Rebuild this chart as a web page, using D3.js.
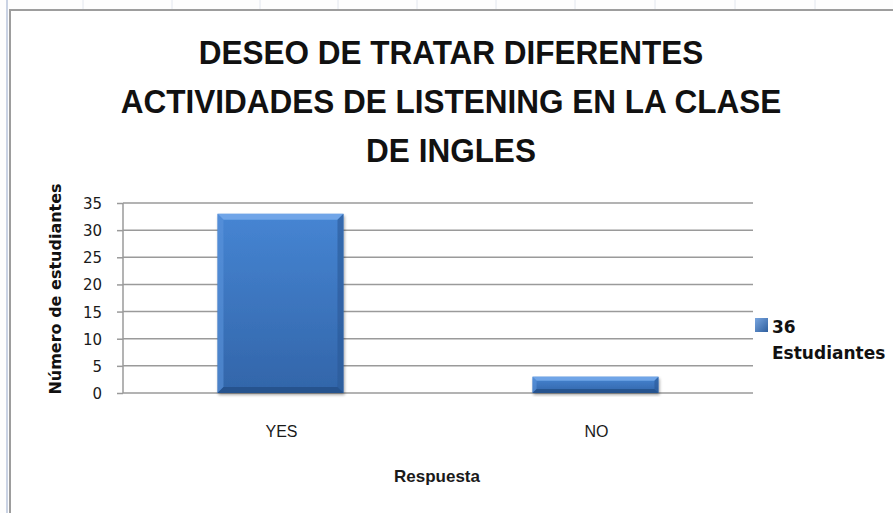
<!DOCTYPE html>
<html><head><meta charset="utf-8">
<script src="https://cdn.jsdelivr.net/npm/d3@7"></script>
<style>
html,body{margin:0;padding:0;background:#fff;}
svg{display:block;}
</style></head>
<body>
<svg id="c" width="893" height="513"></svg>
<script>
const titleLines = ["DESEO DE TRATAR DIFERENTES","ACTIVIDADES DE LISTENING EN LA CLASE","DE INGLES"];
const categories = ["YES","NO"];
const values = [33,3];
const yTicks = [0,5,10,15,20,25,30,35];
const seriesName = ["36","Estudiantes"];
const yTitle = "Número de estudiantes";
const xTitle = "Respuesta";

const svg = d3.select("#c");
const W=893,H=513;

// sheet background hints
svg.append("rect").attr("x",0).attr("y",0).attr("width",W).attr("height",H).attr("fill","#fdfdfd");
svg.append("line").attr("x1",7).attr("x2",7).attr("y1",0).attr("y2",H).attr("stroke","#c9d2e3").attr("stroke-width",2);
[83,172,260,338,417,496,575,655,735,815].forEach(xx=>{
  svg.append("line").attr("x1",xx).attr("x2",xx).attr("y1",0).attr("y2",9).attr("stroke","#e2e6ee").attr("stroke-width",1);
});
// chart frame
svg.append("rect").attr("x",10).attr("y",10).attr("width",W+20).attr("height",H+20)
  .attr("fill","#ffffff").attr("stroke","#9d9d9d").attr("stroke-width",2);

const defs = svg.append("defs");
const g1 = defs.append("linearGradient").attr("id","barG").attr("x1",0).attr("x2",0).attr("y1",0).attr("y2",1);
g1.append("stop").attr("offset","0%").attr("stop-color","#4685d3");
g1.append("stop").attr("offset","100%").attr("stop-color","#3265a9");
const gL = defs.append("linearGradient").attr("id","legG").attr("x1",0).attr("x2",1).attr("y1",0).attr("y2",1);
gL.append("stop").attr("offset","0%").attr("stop-color","#79a6e0");
gL.append("stop").attr("offset","100%").attr("stop-color","#2f5f9e");
const sh = defs.append("filter").attr("id","shadow").attr("x","-10%").attr("y","-10%").attr("width","130%").attr("height","130%");
sh.append("feGaussianBlur").attr("in","SourceAlpha").attr("stdDeviation",1.5);
sh.append("feOffset").attr("dx",1).attr("dy",1.5).attr("result","b");
sh.append("feComponentTransfer").append("feFuncA").attr("type","linear").attr("slope",0.35);
const mg = sh.append("feMerge"); mg.append("feMergeNode"); mg.append("feMergeNode").attr("in","SourceGraphic");

const x = d3.scaleBand().domain(categories).range([123,753]).paddingInner(0.6).paddingOuter(0.3);
const y = d3.scaleLinear().domain([0,35]).range([393,203]);

// axis and ticks
const gy = svg.append("g").attr("transform","translate(123,0)")
  .call(d3.axisLeft(y).tickValues(yTicks).tickSize(6).tickFormat(""));
gy.select(".domain").attr("stroke","#9a9a9a").attr("stroke-width",1.5).attr("d","M0,"+y(35)+"V"+y(0));
gy.selectAll(".tick line").attr("stroke","#9a9a9a").attr("stroke-width",1.5);
// gridlines
svg.append("g").selectAll("line").data(yTicks).join("line")
  .attr("x1",123).attr("x2",753).attr("y1",d=>y(d)).attr("y2",d=>y(d))
  .attr("stroke","#9a9a9a").attr("stroke-width",1.5);

// tick labels
svg.append("g").selectAll("text").data(yTicks).join("text")
  .attr("x",102).attr("y",d=>y(d)+6).attr("text-anchor","end")
  .attr("font-family","DejaVu Sans, Verdana, sans-serif").attr("font-size",15).attr("fill","#1a1a1a")
  .text(d=>d);

// bars
const bars = svg.append("g").selectAll("g").data(categories).join("g").attr("filter","url(#shadow)");
bars.each(function(c,i){
  const g=d3.select(this);
  const x0=x(c), w=x.bandwidth(), y0=y(values[i]), y1=y(0), h=y1-y0;
  const b=Math.min(6,h/4);
  g.append("rect").attr("x",x0).attr("y",y0).attr("width",w).attr("height",h).attr("fill","url(#barG)");
  g.append("path").attr("d",`M${x0},${y0}H${x0+w}L${x0+w-b},${y0+b}H${x0+b}Z`).attr("fill","#74a8ea").attr("opacity",0.9);
  g.append("path").attr("d",`M${x0},${y0}L${x0+b},${y0+b}V${y1-b}L${x0},${y1}Z`).attr("fill","#5c94dc").attr("opacity",0.6);
  g.append("path").attr("d",`M${x0+w},${y0}L${x0+w-b},${y0+b}V${y1-b}L${x0+w},${y1}Z`).attr("fill","#2a5896").attr("opacity",0.6);
  g.append("path").attr("d",`M${x0},${y1}L${x0+b},${y1-b}H${x0+w-b}L${x0+w},${y1}Z`).attr("fill","#234c84").attr("opacity",0.75);
});

// x labels
svg.append("g").selectAll("text").data(categories).join("text")
  .attr("x",d=>x(d)+x.bandwidth()/2+1).attr("y",437).attr("text-anchor","middle")
  .attr("font-family","Liberation Sans, Arial, sans-serif").attr("font-size",16).attr("fill","#1a1a1a")
  .text(d=>d);

// axis titles
svg.append("text").attr("x",437).attr("y",482).attr("text-anchor","middle")
  .attr("font-family","Liberation Sans, Arial, sans-serif").attr("font-weight","bold").attr("font-size",17).attr("fill","#1a1a1a")
  .text(xTitle);
svg.append("text").attr("transform","translate(61,289) rotate(-90)").attr("text-anchor","middle")
  .attr("font-family","DejaVu Sans, Verdana, sans-serif").attr("font-weight","bold").attr("font-size",16).attr("fill","#111")
  .text(yTitle);

// title
const tY=[64,113,162];
svg.append("g").attr("transform","translate(451,0) scale(0.955,1)")
  .selectAll("text").data(titleLines).join("text")
  .attr("x",0).attr("y",(d,i)=>tY[i]).attr("text-anchor","middle")
  .attr("font-family","Liberation Sans, Arial, sans-serif").attr("font-weight","bold")
  .attr("font-size",33).attr("fill","#111")
  .text(d=>d);

// legend
svg.append("rect").attr("x",755).attr("y",318).attr("width",13).attr("height",14).attr("fill","url(#legG)");
svg.append("g").selectAll("text").data(seriesName).join("text")
  .attr("x",772).attr("y",(d,i)=>333+i*26)
  .attr("font-family","DejaVu Sans, Verdana, sans-serif").attr("font-weight","bold").attr("font-size",17).attr("fill","#111")
  .text(d=>d);
</script>
</body></html>
